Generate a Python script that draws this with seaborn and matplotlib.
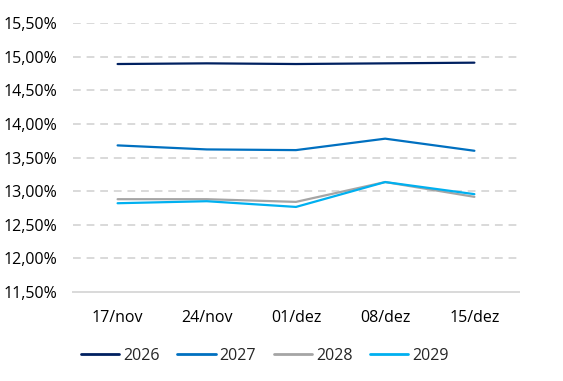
import matplotlib
matplotlib.use("Agg")
import matplotlib.pyplot as plt
import seaborn as sns
import pandas as pd
from matplotlib.ticker import FuncFormatter

dates = ["17/nov", "24/nov", "01/dez", "08/dez", "15/dez"]
s2026 = [14.89, 14.90, 14.89, 14.90, 14.91]
s2027 = [13.68, 13.62, 13.61, 13.78, 13.60]
s2028 = [12.88, 12.88, 12.84, 13.135, 12.915]
s2029 = [12.82, 12.85, 12.765, 13.135, 12.955]
series_names = ["2026", "2027", "2028", "2029"]
colors = ["#002060", "#0070C0", "#A5A5A5", "#00B0F0"]
yticks = [11.5, 12.0, 12.5, 13.0, 13.5, 14.0, 14.5, 15.0, 15.5]

rows = []
for name, vals in zip(series_names, [s2026, s2027, s2028, s2029]):
    for i, (d, v) in enumerate(zip(dates, vals)):
        rows.append({"pos": i, "date": d, "value": v, "serie": name})
df = pd.DataFrame(rows)

sns.set_theme(style="white")
plt.rcParams["font.family"] = ["Open Sans", "DejaVu Sans"]

fig = plt.figure(figsize=(5.63, 3.81), dpi=100)
ax = fig.add_axes([73/563, 1 - 292/381, (519-73)/563, (292-23)/381])

sns.lineplot(data=df, x="pos", y="value", hue="serie", palette=colors,
             hue_order=series_names, linewidth=1.6, ax=ax, legend=True)

ax.set_xlim(-0.5, 4.5)
ax.set_ylim(11.5, 15.5)
ax.set_xticks(range(len(dates)))
ax.set_xticklabels(dates)
ax.set_yticks(yticks)
ax.yaxis.set_major_formatter(FuncFormatter(lambda v, p: f"{v:.2f}".replace(".", ",") + "%"))
for y in yticks[1:]:
    ax.axhline(y, color="#D9D9D9", linewidth=1.4, linestyle=(0, (4, 3)), zorder=0)
for s in ["top", "right", "left"]:
    ax.spines[s].set_visible(False)
ax.spines["bottom"].set_color("#D9D9D9")
ax.spines["bottom"].set_linewidth(1.4)
ax.tick_params(axis="both", length=0, labelsize=11.5, colors="#000000")
ax.tick_params(axis="x", pad=13)
ax.tick_params(axis="y", pad=11)
ax.set_xlabel("")
ax.set_ylabel("")

leg = ax.legend(loc="upper center", bbox_to_anchor=(0.43, -0.155), ncol=4,
                frameon=False, fontsize=11.5, handlelength=2.4, columnspacing=1.1,
                handletextpad=0.25)
for line in leg.get_lines():
    line.set_linewidth(2)

fig.savefig("out.png", dpi=100)
